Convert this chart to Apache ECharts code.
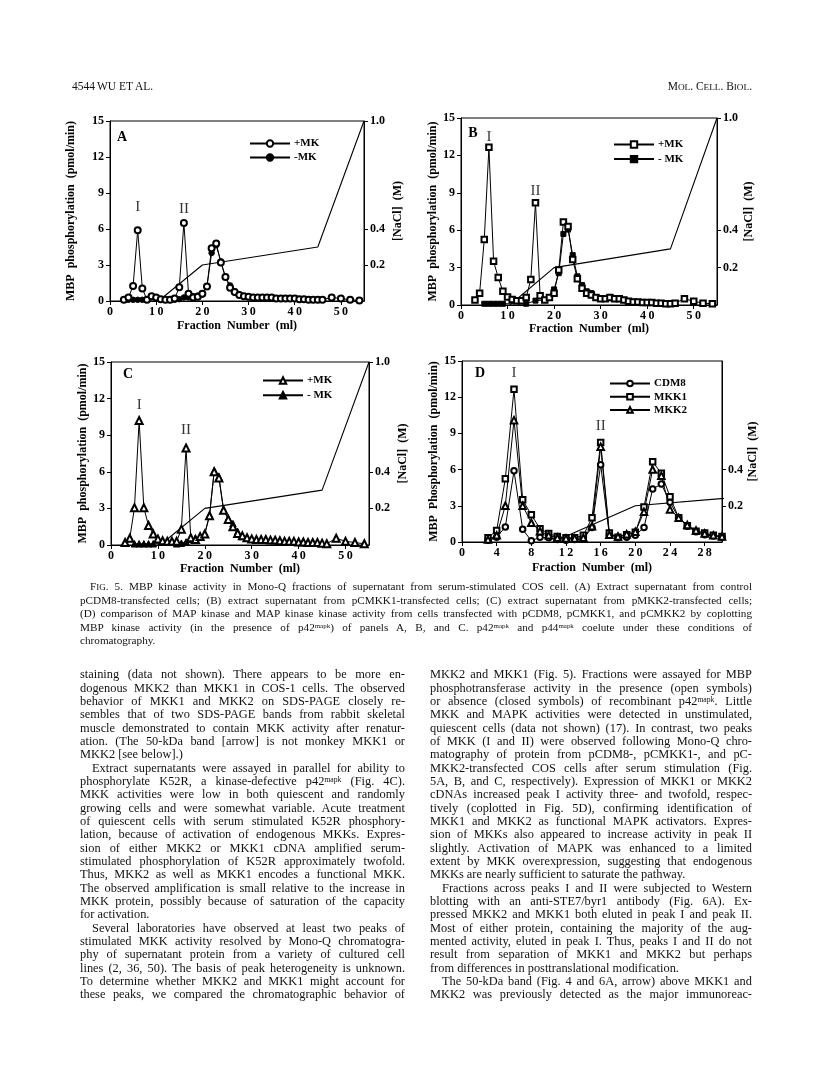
<!DOCTYPE html>
<html><head><meta charset="utf-8">
<script src="https://cdn.jsdelivr.net/npm/echarts@6/dist/echarts.min.js"></script>
<style>
html,body{margin:0;padding:0;background:#fff;}
#page{position:relative;width:816px;height:1084px;overflow:hidden;background:#fff;}
#chart{position:absolute;left:0;top:0;width:816px;height:1084px;}
.ln{position:absolute;font-family:'Liberation Serif','Times New Roman',serif;color:#111;text-align:justify;text-align-last:justify;white-space:normal;}
.ln.end{text-align-last:left;}
.ln sup{font-size:0.62em;vertical-align:0.45em;line-height:0;}
.sc{font-size:0.8em;}
</style></head>
<body><div id="page"><div id="chart"></div><div id="text"></div></div>
<script>
// ---------------- DATA ----------------
const fractions = [3,4,5,6,7,8,9,10,11,12,13,14,15,16,17,18,19,20,21,22,23,24,25,26,27,28,29,30,31,32,33,34,35,36,37,38,39,40,41,42,43,44,45,46,48,50,52,54];
const aPlusMK = [0.1,0.3,1.25,5.9,1.05,0.1,0.4,0.3,0.15,0.1,0.1,0.2,1.15,6.5,0.6,0.3,0.35,0.6,1.2,4.4,4.8,3.2,2.0,1.1,0.75,0.5,0.4,0.35,0.3,0.3,0.3,0.3,0.3,0.2,0.2,0.2,0.2,0.2,0.15,0.15,0.1,0.1,0.1,0.1,0.3,0.2,0.1,0.05];
const bPlusMK = [0.4,0.95,5.25,12.65,3.5,2.2,1.1,0.65,0.45,0.35,0.35,0.6,2.05,8.2,0.75,0.4,0.6,0.95,2.8,6.65,6.3,3.65,2.1,1.35,0.95,0.8,0.6,0.5,0.5,0.6,0.5,0.5,0.4,0.3,0.25,0.25,0.2,0.2,0.2,0.15,0.15,0.1,0.1,0.15,0.5,0.3,0.15,0.1];
const cPlusMK = [0.2,0.55,3.05,10.2,3.05,1.6,0.9,0.5,0.35,0.3,0.3,0.3,1.3,7.95,0.6,0.45,0.7,0.9,2.4,6.0,5.5,2.85,2.1,1.5,0.95,0.75,0.6,0.5,0.45,0.45,0.45,0.4,0.4,0.35,0.3,0.3,0.3,0.25,0.25,0.2,0.2,0.2,0.15,0.1,0.55,0.3,0.2,0.1];

const aMinusFr = [4,5,6,7,8,14,15,16,17,18,19,20,21,22,23,24,25,26,27,28];
const aMinusMK = [0.1,0.1,0.1,0.1,0.1,0.1,0.15,0.3,0.3,0.4,0.45,0.55,1.25,4.0,4.65,3.3,2.0,1.3,0.8,0.55];
const bMinusFr = [5,6,7,8,9,14,16,18,20,21,22,23,24,25,26,27,28];
const bMinusMK = [0.1,0.1,0.1,0.1,0.1,0.1,0.35,0.4,1.25,2.55,5.7,6.05,4.0,2.3,1.6,1.1,0.95];
const cMinusFr = [5,6,7,8,9,14,15,16,17,18,19,20,21,22,23,24,25,26,27,28];
const cMinusMK = [0.1,0.1,0.1,0.1,0.1,0.1,0.15,0.25,0.45,0.55,0.7,0.95,2.45,6.1,5.6,2.9,2.2,1.75,1.1,0.7];

const dFractions = [3,4,5,6,7,8,9,10,11,12,13,14,15,16,17,18,19,20,21,22,23,24,25,26,27,28,29,30];
const dCDM8 = [0.15,0.4,1.25,5.9,1.05,0.1,0.4,0.35,0.2,0.15,0.2,0.25,1.2,6.4,0.6,0.35,0.4,0.55,1.2,4.4,4.8,3.3,2.0,1.3,0.85,0.6,0.5,0.4];
const dMKK1 = [0.35,0.95,5.25,12.65,3.5,2.25,1.1,0.7,0.45,0.35,0.35,0.55,2.0,8.25,0.75,0.4,0.6,0.8,2.9,6.65,5.7,3.75,2.0,1.35,0.9,0.75,0.55,0.45];
const dMKK2 = [0.2,0.55,3.0,10.1,3.0,1.6,0.9,0.55,0.35,0.3,0.3,0.35,1.3,7.9,0.6,0.45,0.65,0.85,2.5,6.0,5.5,2.7,2.0,1.4,0.95,0.7,0.55,0.45];

const naclFr = [10.5,20,45,55];
const naclM  = [0,0.2,0.3,1.0];

const peaksA = [{x:6,y:7.8,t:'I'},{x:16,y:7.7,t:'II'}];
const peaksB = [{x:6,y:13.5,t:'I'},{x:16,y:9.1,t:'II'}];
const peaksC = [{x:6,y:11.5,t:'I'},{x:16,y:9.4,t:'II'}];
const peaksD = [{x:6,y:14.0,t:'I'},{x:16,y:9.6,t:'II'}];

const naclTicksABC = [0.2,0.4,1.0];
const naclTicksD = [0.2,0.4];

// ---------------- CHART ----------------
const SERIF = "'Liberation Serif','Times New Roman',serif";
const pairs = (xs, ys) => xs.map((x,i)=>[x,ys[i]]);
const grids = [
  {left:110, top:121, width:254, height:180},
  {left:461, top:118, width:256, height:187},
  {left:111, top:362, width:258, height:183},
  {left:462, top:361, width:260, height:181}
];
const xMax = [55,55,55,30], xInt=[10,10,10,4];
const xNameGap=[19,17,18,20];
const yNameGap=[33,21,19,20];
const rNameGap=[28,26,28,22];
const yNames=['MBP  phosphorylation  (pmol/min)','MBP  phosphorylation  (pmol/min)','MBP  phosphorylation  (pmol/min)','MBP  Phosphorylation  (pmol/min)'];

const option = {animation:false, backgroundColor:'#fff', grid:[], xAxis:[], yAxis:[], series:[], legend:[], graphic:[]};
const blk = {color:'#000', width:1};
grids.forEach((g,i)=>{
  option.grid.push(Object.assign({show:true, borderColor:'#000', borderWidth:1, backgroundColor:'transparent'}, g));
  option.xAxis.push({gridIndex:i, type:'value', min:0, max:xMax[i], interval:xInt[i],
    axisLine:{lineStyle:blk}, axisTick:{length:4, lineStyle:blk}, splitLine:{show:false},
    axisLabel:{color:'#000', fontFamily:SERIF, fontSize:12, fontWeight:'bold', margin:5, showMaxLabel:false,
      formatter:v=>String(v).split('').join('\u2009')},
    name:'Fraction  Number  (ml)', nameLocation:'middle', nameGap:xNameGap[i],
    nameTextStyle:{color:'#000', fontFamily:SERIF, fontSize:12, fontWeight:'bold'}});
  option.yAxis.push({gridIndex:i, type:'value', min:0, max:15, interval:3, position:'left',
    axisLine:{lineStyle:blk}, axisTick:{length:4, lineStyle:blk}, splitLine:{show:false},
    axisLabel:{color:'#000', fontFamily:SERIF, fontSize:12, fontWeight:'bold', margin:6},
    name:yNames[i], nameLocation:'middle', nameRotate:90, nameGap:yNameGap[i],
    nameTextStyle:{color:'#000', fontFamily:SERIF, fontSize:12, fontWeight:'bold'}});
  option.yAxis.push({gridIndex:i, type:'value', min:0, max:1, interval:0.2, position:'right',
    axisLine:{show:true, lineStyle:blk}, axisTick:{length:4, lineStyle:blk, customValues: i===3?naclTicksD:naclTicksABC},
    splitLine:{show:false},
    axisLabel:{color:'#000', fontFamily:SERIF, fontSize:12, fontWeight:'bold', margin:6,
      customValues: i===3?naclTicksD:naclTicksABC, formatter:v=>v.toFixed(1)},
    name:'[NaCl]  (M)', nameLocation:'middle', nameRotate:90, nameGap:rNameGap[i],
    nameTextStyle:{color:'#000', fontFamily:SERIF, fontSize:12, fontWeight:'bold'}});
  option.series.push({type:'line', name:'NaCl'+i, xAxisIndex:i, yAxisIndex:2*i+1, data:pairs(naclFr,naclM),
    showSymbol:false, symbol:'none', clip:true, lineStyle:{color:'#000', width:1.1}, silent:true, z:1});
});

function mkLine(name, gi, xs, ys, symbol, size){
  return {type:'line', name:name, xAxisIndex:gi, yAxisIndex:2*gi, data:pairs(xs,ys), symbol:symbol, symbolSize:size,
    showAllSymbol:true, clip:false, lineStyle:{color:'#000', width:1}, itemStyle:{color:'#000', borderColor:'#000', borderWidth:1},
    emphasis:{disabled:true}, z:3};
}
option.series.push(mkLine('A|-MK',0,aMinusFr,aMinusMK,'circle',5.5));
option.series.push(mkLine('A|+MK',0,fractions,aPlusMK,'emptyCircle',6));
option.series.push(mkLine('B|- MK',1,bMinusFr,bMinusMK,'rect',5));
option.series.push(mkLine('B|+MK',1,fractions,bPlusMK,'emptyRect',5.5));
option.series.push(mkLine('C|- MK',2,cMinusFr,cMinusMK,'triangle',6.5));
option.series.push(mkLine('C|+MK',2,fractions,cPlusMK,'emptyTriangle',7));
option.series.push(mkLine('D|CDM8',3,dFractions,dCDM8,'emptyCircle',5.5));
option.series.push(mkLine('D|MKK1',3,dFractions,dMKK1,'emptyRect',5.5));
option.series.push(mkLine('D|MKK2',3,dFractions,dMKK2,'emptyTriangle',6.5));

[peaksA,peaksB,peaksC,peaksD].forEach((pk,i)=>{
  option.series.push({type:'scatter', xAxisIndex:i, yAxisIndex:2*i, symbolSize:1, itemStyle:{color:'transparent'}, silent:true,
    data:pk.map(p=>({value:[p.x,p.y], name:p.t})),
    label:{show:true, position:'inside', formatter:p=>p.name, color:'#000', fontFamily:SERIF, fontSize:15}});
});

const legCfg = [
  {left:249, top:138, gap:3, h:8, data:['A|+MK','A|-MK']},
  {left:613, top:139, gap:3.6, h:8, data:['B|+MK','B|- MK']},
  {left:262, top:375, gap:3.7, h:8, data:['C|+MK','C|- MK']},
  {left:609, top:378, gap:2.2, h:7, data:['D|CDM8','D|MKK1','D|MKK2']}
];
legCfg.forEach(l=>{
  option.legend.push({left:l.left, top:l.top, orient:'vertical', itemWidth:40, itemHeight:l.h, itemGap:l.gap,
    selectedMode:false, data:l.data, formatter:n=>n.split('|')[1], padding:0,
    textStyle:{color:'#000', fontFamily:SERIF, fontSize:11, fontWeight:'bold', padding:[0,0,0,-1]}});
});
const letters = [{t:'A',x:122,y:137},{t:'B',x:473,y:133},{t:'C',x:128,y:374},{t:'D',x:480,y:373}];
letters.forEach(L=>option.graphic.push({type:'text', x:L.x, y:L.y, style:{text:L.t, fill:'#000', font:"bold 14px "+SERIF, textAlign:'center', textVerticalAlign:'middle'}}));

const chart = echarts.init(document.getElementById('chart'), null, {renderer:'canvas'});
chart.setOption(option);

// ---------------- PAGE TEXT ----------------
const header = [
  {t:'4544', x:72, y:87},
  {t:'WU ET AL.', x:97, y:87},
];
const caption = [
  {t:'F<span class="sc">IG</span>. 5. MBP kinase activity in Mono-Q fractions of supernatant from serum-stimulated COS cell. (A) Extract supernatant from control', ind:10},
  {t:'pCDM8-transfected cells; (B) extract supernatant from pCMKK1-transfected cells; (C) extract supernatant from pMKK2-transfected cells;'},
  {t:'(D) comparison of MAP kinase and MAP kinase kinase activity from cells transfected with pCDM8, pCMKK1, and pCMKK2 by coplotting'},
  {t:'MBP kinase activity (in the presence of p42<sup>mapk</sup>) of panels A, B, and C. p42<sup>mapk</sup> and p44<sup>mapk</sup> coelute under these conditions of'},
  {t:'chromatography.', end:true}
];
const leftCol = [
  {t:'staining (data not shown). There appears to be more en-'},
  {t:'dogenous MKK2 than MKK1 in COS-1 cells. The observed'},
  {t:'behavior of MKK1 and MKK2 on SDS-PAGE closely re-'},
  {t:'sembles that of two SDS-PAGE bands from rabbit skeletal'},
  {t:'muscle demonstrated to contain MKK activity after renatur-'},
  {t:'ation. (The 50-kDa band [arrow] is not monkey MKK1 or'},
  {t:'MKK2 [see below].)', end:true},
  {t:'Extract supernatants were assayed in parallel for ability to', ind:12},
  {t:'phosphorylate K52R, a kinase-defective p42<sup>mapk</sup> (Fig. 4C).'},
  {t:'MKK activities were low in both quiescent and randomly'},
  {t:'growing cells and were somewhat variable. Acute treatment'},
  {t:'of quiescent cells with serum stimulated K52R phosphory-'},
  {t:'lation, because of activation of endogenous MKKs. Expres-'},
  {t:'sion of either MKK2 or MKK1 cDNA amplified serum-'},
  {t:'stimulated phosphorylation of K52R approximately twofold.'},
  {t:'Thus, MKK2 as well as MKK1 encodes a functional MKK.'},
  {t:'The observed amplification is small relative to the increase in'},
  {t:'MKK protein, possibly because of saturation of the capacity'},
  {t:'for activation.', end:true},
  {t:'Several laboratories have observed at least two peaks of', ind:12},
  {t:'stimulated MKK activity resolved by Mono-Q chromatogra-'},
  {t:'phy of supernatant protein from a variety of cultured cell'},
  {t:'lines (2, 36, 50). The basis of peak heterogeneity is unknown.'},
  {t:'To determine whether MKK2 and MKK1 might account for'},
  {t:'these peaks, we compared the chromatographic behavior of'}
];
const rightCol = [
  {t:'MKK2 and MKK1 (Fig. 5). Fractions were assayed for MBP'},
  {t:'phosphotransferase activity in the presence (open symbols)'},
  {t:'or absence (closed symbols) of recombinant p42<sup>mapk</sup>. Little'},
  {t:'MKK and MAPK activities were detected in unstimulated,'},
  {t:'quiescent cells (data not shown) (17). In contrast, two peaks'},
  {t:'of MKK (I and II) were observed following Mono-Q chro-'},
  {t:'matography of protein from pCDM8-, pCMKK1-, and pC-'},
  {t:'MKK2-transfected COS cells after serum stimulation (Fig.'},
  {t:'5A, B, and C, respectively). Expression of MKK1 or MKK2'},
  {t:'cDNAs increased peak I activity three- and twofold, respec-'},
  {t:'tively (coplotted in Fig. 5D), confirming identification of'},
  {t:'MKK1 and MKK2 as functional MAPK activators. Expres-'},
  {t:'sion of MKKs also appeared to increase activity in peak II'},
  {t:'slightly. Activation of MAPK was enhanced to a limited'},
  {t:'extent by MKK overexpression, suggesting that endogenous'},
  {t:'MKKs are nearly sufficient to saturate the pathway.', end:true},
  {t:'Fractions across peaks I and II were subjected to Western', ind:12},
  {t:'blotting with an anti-STE7/byr1 antibody (Fig. 6A). Ex-'},
  {t:'pressed MKK2 and MKK1 both eluted in peak I and peak II.'},
  {t:'Most of either protein, containing the majority of the aug-'},
  {t:'mented activity, eluted in peak I. Thus, peaks I and II do not'},
  {t:'result from separation of MKK1 and MKK2 but perhaps'},
  {t:'from differences in posttranslational modification.', end:true},
  {t:'The 50-kDa band (Fig. 4 and 6A, arrow) above MKK1 and', ind:12},
  {t:'MKK2 was previously detected as the major immunoreac-'}
];
const textDiv = document.getElementById('text');
function addLine(html, x, yc, W, fs, end){
  const d = document.createElement('div');
  d.className='ln';
  d.style.left=x+'px'; d.style.width=W+'px'; d.style.fontSize=fs+'px'; d.style.lineHeight=(fs*1.2)+'px';
  d.style.top=(yc - fs*0.62)+'px';
  d.innerHTML='<span style="white-space:nowrap">'+html+'</span>';
  textDiv.appendChild(d);
  const w = d.firstChild.getBoundingClientRect().width;
  if (w > W - 0.5) { d.style.fontSize=(fs*(W-0.5)/w)+'px'; }
  d.innerHTML = html;
  if (end) d.className='ln end';
  return d;
}
function addBlock(lines, x, y0, dy, W, fs){
  lines.forEach((l,i)=>{ const ind=l.ind||0; addLine(l.t, x+ind, y0+i*dy, W-ind, fs, l.end); });
}
header.forEach(h=>{ addLine(h.t,h.x,h.y,120,11.5,true); });
(function(){ const d=document.createElement('div'); d.className='ln end';
  d.style.right=(816-752)+'px'; d.style.top=(87-11.5*0.62)+'px'; d.style.fontSize='11.5px'; d.style.lineHeight='13.8px';
  d.innerHTML='M<span class="sc">OL</span>. C<span class="sc">ELL</span>. B<span class="sc">IOL</span>.'; textDiv.appendChild(d); })();
addBlock(caption, 80, 587, 13.6, 672, 11.2);
addBlock(leftCol, 80, 675, 13.33, 325, 12.4);
addBlock(rightCol, 430, 675, 13.33, 322, 12.4);
</script></body></html>
